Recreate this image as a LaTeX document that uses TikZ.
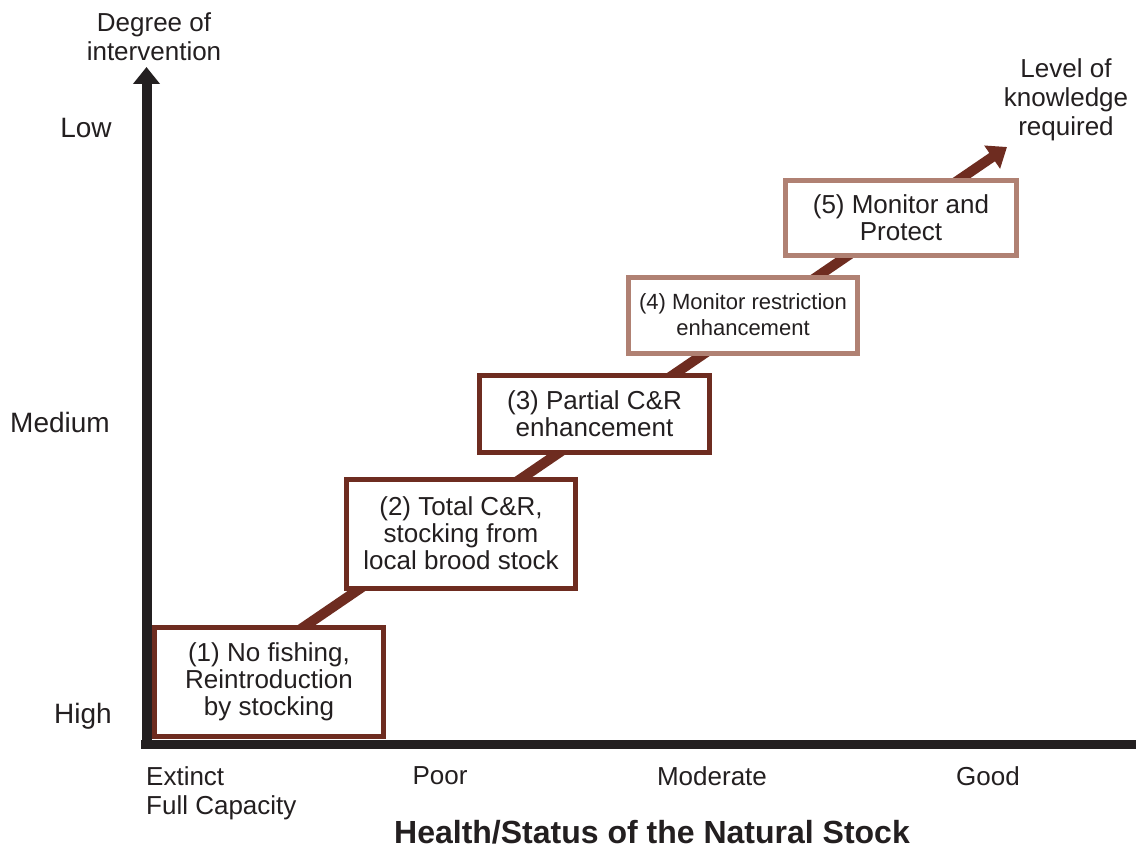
\documentclass[tikz,border=0pt]{standalone}
\usepackage{fontspec}
\setmainfont{Liberation Sans}
\usetikzlibrary{arrows.meta}
\definecolor{axisc}{HTML}{231F20}
\definecolor{darkbr}{HTML}{6E2C20}
\definecolor{lightbr}{HTML}{B08173}
\definecolor{txt}{HTML}{231F20}
\begin{document}
\begin{tikzpicture}[x=1pt,y=-1pt,
  lbl/.style={text=txt,inner sep=0pt,font=\fontsize{26}{29}\selectfont,align=center},
  ylbl/.style={lbl,font=\fontsize{28}{30}\selectfont},
  stagebox/.style={draw=darkbr,line width=5pt,fill=white,text=txt,align=center,inner sep=0pt,font=\fontsize{26}{27}\selectfont},
  lightbox/.style={stagebox,draw=lightbr}]
\clip (0,0) rectangle (1136,848);
\fill[white] (0,0) rectangle (1136,848);
% diagonal arrow
\coordinate (dstart) at (270,650);
\coordinate (dend) at (1007,147);
\draw[darkbr,line width=10pt,-{Triangle[length=18pt,width=27pt]}] (dstart) -- (dend);
% axes
\coordinate (o) at (146.5,748);
\coordinate (ytip) at (146.5,67);
\coordinate (xo) at (141,744);
\coordinate (xtip) at (1160,744);
\draw[axisc,line width=10pt,-{Triangle[length=17pt,width=26pt]}] (o) -- (ytip);
\draw[axisc,line width=9pt,-{Triangle[length=18pt,width=26pt]}] (xo) -- (xtip);
% boxes
\node[stagebox,minimum width=229pt,minimum height=109pt] (b1) at (269,682) {(1) No fishing,\\Reintroduction\\by stocking};
\node[stagebox,minimum width=229pt,minimum height=109pt] (b2) at (461,533.5) {(2) Total C\&R,\\stocking from\\local brood stock};
\node[stagebox,minimum width=230pt,minimum height=77pt] (b3) at (594.5,413.5) {(3) Partial C\&R\\enhancement};
\node[lightbox,minimum width=229pt,minimum height=76pt,font=\fontsize{22}{26}\selectfont] (b4) at (743,315) {(4) Monitor restriction\\enhancement};
\node[lightbox,minimum width=231pt,minimum height=75pt] (b5) at (901,218) {(5) Monitor and\\Protect};
% labels
\node[lbl] (ytitle) at (154,37) {Degree of\\intervention};
\node[ylbl] (low) at (86,128) {Low};
\node[ylbl] (med) at (60,422) {Medium};
\node[ylbl] (high) at (83,716) {High};
\node[lbl,align=left,anchor=north west] (ext) at (146,766) {Extinct\\Full Capacity};
\node[lbl] (poor) at (440,776) {Poor};
\node[lbl] (mod) at (712,776) {Moderate};
\node[lbl] (good) at (988,776) {Good};
\node[lbl,font=\bfseries\fontsize{32}{34}\selectfont] (xtitle) at (652,832) {Health/Status of the Natural Stock};
\node[lbl] (know) at (1066,100) {Level of\\knowledge\\required};
\end{tikzpicture}
\end{document}
